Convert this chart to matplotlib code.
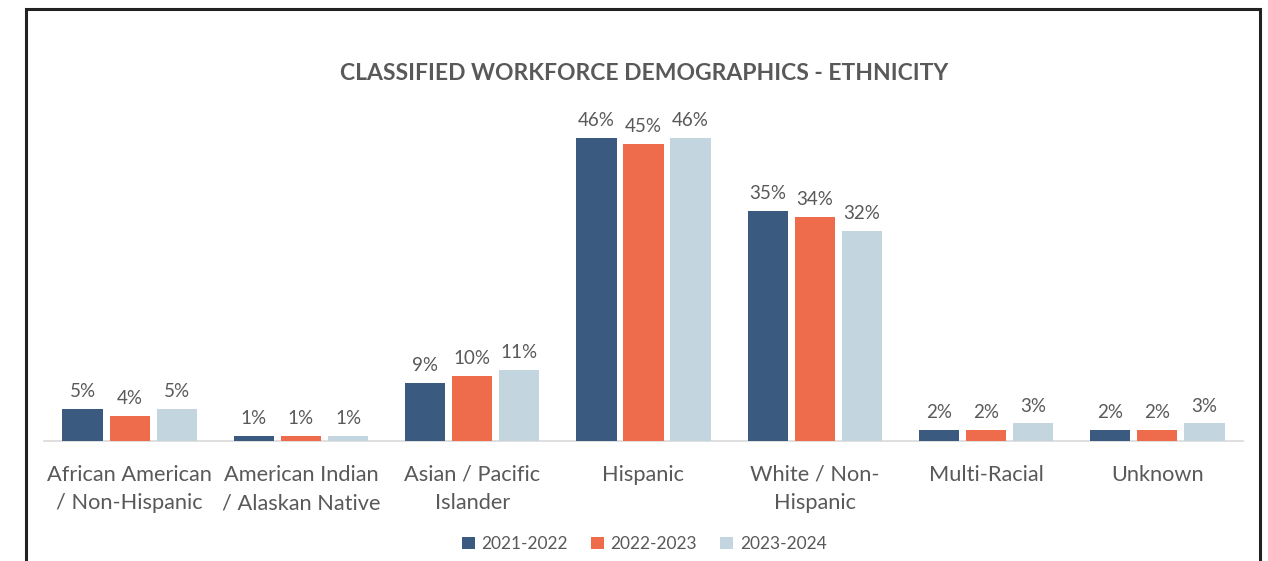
import numpy as np
import matplotlib.pyplot as plt
from matplotlib.patches import Rectangle

plt.rcParams['font.family'] = ['Lato', 'DejaVu Sans']

categorias = ['African American\n/ Non-Hispanic', 'American Indian\n/ Alaskan Native',
              'Asian / Pacific\nIslander', 'Hispanic', 'White / Non-\nHispanic',
              'Multi-Racial', 'Unknown']
anios = ['2021-2022', '2022-2023', '2023-2024']
v_2122 = [4.9, 0.8, 8.8, 46.0, 34.9, 1.7, 1.7]
v_2223 = [3.8, 0.8, 9.9, 45.1, 34.0, 1.7, 1.7]
v_2324 = [4.9, 0.8, 10.8, 46.0, 31.9, 2.7, 2.7]
colores = ['#3b5a80', '#ee6b4b', '#c3d6df']
gris = '#595959'

fig = plt.figure(figsize=(12.68, 5.61), dpi=100)
ax = fig.add_axes([44 / 1268, 120 / 561, 1199 / 1268, 321 / 561])

x = np.arange(len(categorias))
ancho = 0.235
desp = 0.275
for i, (serie, color, anio) in enumerate(zip([v_2122, v_2223, v_2324], colores, anios)):
    barras = ax.bar(x + (i - 1) * desp, serie, ancho, color=color, label=anio, zorder=3)
    for b, v in zip(barras, serie):
        ax.text(b.get_x() + b.get_width() / 2, v + 1.3, f'{round(v)}%',
                ha='center', va='bottom', fontsize=13.5, color=gris)

ax.set_xlim(-0.5, len(categorias) - 0.5)
ax.set_ylim(0, 321 / 6.59)
ax.set_yticks([])
ax.set_xticks(x)
ax.set_xticklabels(categorias, fontsize=15.7, color=gris, linespacing=1.55)
ax.tick_params(axis='x', length=0, pad=17)
for s in ['top', 'right', 'left']:
    ax.spines[s].set_visible(False)
ax.spines['bottom'].set_color('#d9d9d9')
ax.spines['bottom'].set_linewidth(1.2)

fig.text(0.508, 1 - 74 / 561, 'CLASSIFIED WORKFORCE DEMOGRAPHICS - ETHNICITY',
         ha='center', va='center', fontsize=16.5, fontweight='bold', color=gris)

leg = fig.legend(loc='center', bbox_to_anchor=(0.508, 1 - 544 / 561), ncol=3,
                 frameon=False, fontsize=12.5, handlelength=0.75, handleheight=0.75,
                 handletextpad=0.4, columnspacing=1.3)
for t in leg.get_texts():
    t.set_color(gris)

# marco alrededor del grafico
fig.patches.append(Rectangle((26 / 1268, -0.05), (1260 - 26) / 1268, 1.05 - 9 / 561,
                             transform=fig.transFigure, fill=False,
                             edgecolor='#222222', linewidth=2.2))

fig.savefig('out.png', dpi=100)
